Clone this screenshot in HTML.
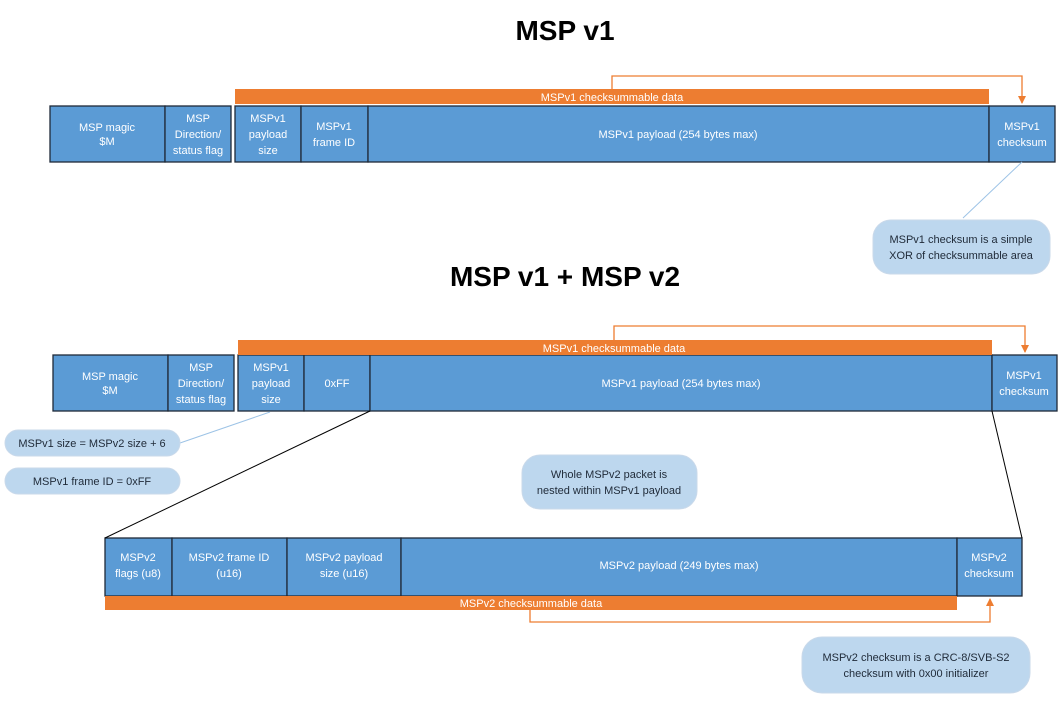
<!DOCTYPE html>
<html><head><style>body{margin:0;background:#fff}</style></head><body>
<svg width="1064" height="701" xmlns="http://www.w3.org/2000/svg" font-family="Liberation Sans, sans-serif">
<defs><marker id="a" markerWidth="8" markerHeight="8" refX="4" refY="7" orient="0" markerUnits="userSpaceOnUse"><path d="M0,0 L8,0 L4,8 z" fill="#ed7d31"/></marker>
<marker id="u" markerWidth="8" markerHeight="8" refX="4" refY="1" orient="0" markerUnits="userSpaceOnUse"><path d="M0,8 L8,8 L4,0 z" fill="#ed7d31"/></marker></defs>
<text x="565" y="40" font-size="28" font-weight="bold" text-anchor="middle" fill="#000">MSP v1</text>
<text x="565" y="286" font-size="28" font-weight="bold" text-anchor="middle" fill="#000">MSP v1 + MSP v2</text>
<g stroke="#1f2a38" stroke-width="1.3" fill="#5b9bd5">
<rect x="50" y="106" width="115" height="56"/><rect x="165" y="106" width="66" height="56"/>
<rect x="235" y="106" width="66" height="56"/><rect x="301" y="106" width="67" height="56"/><rect x="368" y="106" width="621" height="56"/><rect x="989" y="106" width="66" height="56"/>
<rect x="53" y="355" width="115" height="56"/><rect x="168" y="355" width="66" height="56"/>
<rect x="238" y="355" width="66" height="56"/><rect x="304" y="355" width="66" height="56"/><rect x="370" y="355" width="622" height="56"/><rect x="992" y="355" width="65" height="56"/>
<rect x="105" y="538" width="67" height="58"/><rect x="172" y="538" width="115" height="58"/><rect x="287" y="538" width="114" height="58"/><rect x="401" y="538" width="556" height="58"/><rect x="957" y="538" width="65" height="58"/>
</g>
<g fill="#ed7d31"><rect x="235" y="89" width="754" height="15"/><rect x="238" y="340" width="754" height="15"/><rect x="105" y="596" width="852" height="14"/></g>
<g fill="none" stroke="#ed7d31" stroke-width="1.3">
<path d="M612,89 V76 H1022 V103" marker-end="url(#a)"/>
<path d="M614,340 V326 H1025 V352" marker-end="url(#a)"/>
<path d="M530,610 V622 H990 V599" marker-end="url(#u)"/>
</g>
<g stroke="#9dc3e6" stroke-width="1"><line x1="963" y1="218" x2="1022" y2="162"/><line x1="180" y1="443" x2="270" y2="412"/></g>
<g stroke="#000" stroke-width="1"><line x1="370" y1="411" x2="105" y2="538"/><line x1="992" y1="411" x2="1022" y2="538"/></g>
<g fill="#bdd7ee" stroke="#c9d9ea"><rect x="873" y="220" width="177" height="54" rx="18"/><rect x="5" y="430" width="175" height="26" rx="13"/><rect x="5" y="468" width="175" height="26" rx="13"/><rect x="522" y="455" width="175" height="54" rx="18"/><rect x="802" y="637" width="228" height="56" rx="20"/></g>
<g fill="#fff" font-size="11" text-anchor="middle">
<text x="107" y="131">MSP magic</text><text x="107" y="145">$M</text>
<text x="198" y="122">MSP</text><text x="198" y="138">Direction/</text><text x="198" y="154">status flag</text>
<text x="268" y="122">MSPv1</text><text x="268" y="138">payload</text><text x="268" y="154">size</text>
<text x="334" y="130">MSPv1</text><text x="334" y="146">frame ID</text>
<text x="678" y="138">MSPv1 payload (254 bytes max)</text>
<text x="1022" y="130">MSPv1</text><text x="1022" y="146">checksum</text>
<text x="612" y="101">MSPv1 checksummable data</text>
<text x="110" y="380">MSP magic</text><text x="110" y="394">$M</text>
<text x="201" y="371">MSP</text><text x="201" y="387">Direction/</text><text x="201" y="403">status flag</text>
<text x="271" y="371">MSPv1</text><text x="271" y="387">payload</text><text x="271" y="403">size</text>
<text x="337" y="387">0xFF</text>
<text x="681" y="387">MSPv1 payload (254 bytes max)</text>
<text x="1024" y="379">MSPv1</text><text x="1024" y="395">checksum</text>
<text x="614" y="352">MSPv1 checksummable data</text>
<text x="138" y="561">MSPv2</text><text x="138" y="577">flags (u8)</text>
<text x="229" y="561">MSPv2 frame ID</text><text x="229" y="577">(u16)</text>
<text x="344" y="561">MSPv2 payload</text><text x="344" y="577">size (u16)</text>
<text x="679" y="569">MSPv2 payload (249 bytes max)</text>
<text x="989" y="561">MSPv2</text><text x="989" y="577">checksum</text>
<text x="531" y="607">MSPv2 checksummable data</text>
</g>
<g fill="#1f2a38" font-size="11" text-anchor="middle">
<text x="961" y="243">MSPv1 checksum is a simple</text><text x="961" y="259">XOR of checksummable area</text>
<text x="92" y="447">MSPv1 size = MSPv2 size + 6</text>
<text x="92" y="485">MSPv1 frame ID = 0xFF</text>
<text x="609" y="478">Whole MSPv2 packet is</text><text x="609" y="494">nested within MSPv1 payload</text>
<text x="916" y="661">MSPv2 checksum is a CRC-8/SVB-S2</text><text x="916" y="677">checksum with 0x00 initializer</text>
</g>
</svg>
</body></html>
